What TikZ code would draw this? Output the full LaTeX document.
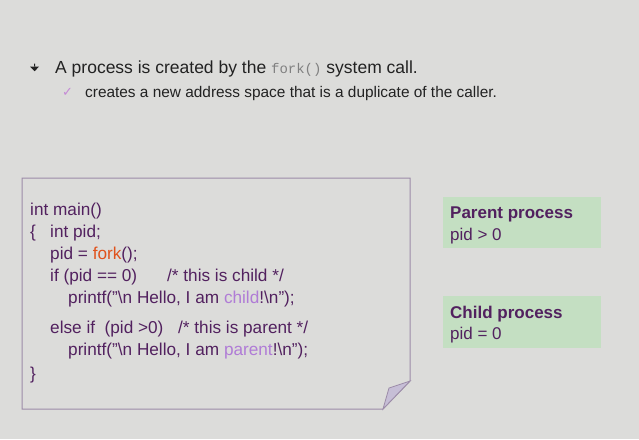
\documentclass[tikz,border=0pt]{standalone}
\usepackage{fontspec}
\setmainfont{Liberation Sans}
\setmonofont{Liberation Mono}
\newfontfamily\dejavu{DejaVu Sans}
\definecolor{bg}{HTML}{DCDCDA}
\definecolor{codecol}{HTML}{52215F}
\definecolor{forkcol}{HTML}{E0521C}
\definecolor{litecol}{HTML}{B07CD6}
\definecolor{boxline}{HTML}{9C8CA8}
\definecolor{foldcol}{HTML}{C6BED6}
\definecolor{greenbox}{HTML}{C4DFC2}
\definecolor{titlecol}{HTML}{222222}
\definecolor{checkcol}{HTML}{C58AD6}
\tikzset{
  codeline/.style={anchor=base west, inner sep=0pt, text=codecol, font=\fontsize{17.2}{19}\selectfont},
  proclabel/.style={anchor=base west, inner sep=0pt, text=codecol, font=\fontsize{17}{19}\selectfont},
  procbox/.style={fill=greenbox, draw=none},
}
\begin{document}
\begin{tikzpicture}[x=1pt,y=-1pt]
\fill[bg] (0,0) rectangle (639,439);
\useasboundingbox (0,0) rectangle (639,439);
% bullet
\fill[titlecol] (34,63.5) rectangle (35.2,67) (30,66.5) -- (39.2,66.5) -- (34.6,71.2) -- cycle;
\node[anchor=base west, inner sep=0pt, text=titlecol, font=\fontsize{17.5}{20}\selectfont] (title) at (55,73)
  {A process is created by the {\color{gray}\ttfamily\fontsize{14}{16}\selectfont fork()} system call.};
\node[anchor=base west, inner sep=0pt, text=checkcol, font=\dejavu\fontsize{13}{15}\selectfont] (check) at (62,96) {✓};
\node[anchor=base west, inner sep=0pt, text=titlecol, font=\fontsize{15.4}{17}\selectfont] (sub) at (85,97)
  {creates a new address space that is a duplicate of the caller.};
% code box with folded corner
\draw[boxline, line width=1pt, fill=bg] (22,178) -- (410,178) -- (410,381) -- (383,409) -- (22,409) -- cycle;
\fill[foldcol, draw=boxline, line width=0.8pt] (383,409) -- (410,381) -- (389,388) -- cycle;
% code lines
\node[codeline] (l1) at (30,215.5) {int main()};
\node[codeline] (l2a) at (30,237.5) {\{};
\node[codeline] (l2) at (50,237.5) {int pid;};
\node[codeline] (l3) at (50,259.5) {pid = {\color{forkcol}fork}();};
\node[codeline] (l4) at (50,281.5) {if (pid == 0)};
\node[codeline] (l4c) at (167,281.5) {/* this is child */};
\node[codeline] (l5) at (68,303.5) {printf("\textbackslash n Hello, I am {\color{litecol}child}!\textbackslash n");};
\node[codeline] (l6) at (50,333.5) {else if \ (pid >0)};
\node[codeline] (l6c) at (178,333.5) {/* this is parent */};
\node[codeline] (l7) at (68,355.5) {printf("\textbackslash n Hello, I am {\color{litecol}parent}!\textbackslash n");};
\node[codeline] (l8) at (30,379.5) {\}};
% process boxes
\fill[procbox] (443,197) rectangle (601,248);
\node[proclabel, font=\fontsize{17}{19}\selectfont\bfseries] (ptitle) at (450,218) {Parent process};
\node[proclabel] (pval) at (450,240) {pid > 0};
\fill[procbox] (443,296) rectangle (601,348);
\node[proclabel, font=\fontsize{17}{19}\selectfont\bfseries] (ctitle) at (450,318) {Child process};
\node[proclabel] (cval) at (450,339) {pid = 0};
\end{tikzpicture}
\end{document}
